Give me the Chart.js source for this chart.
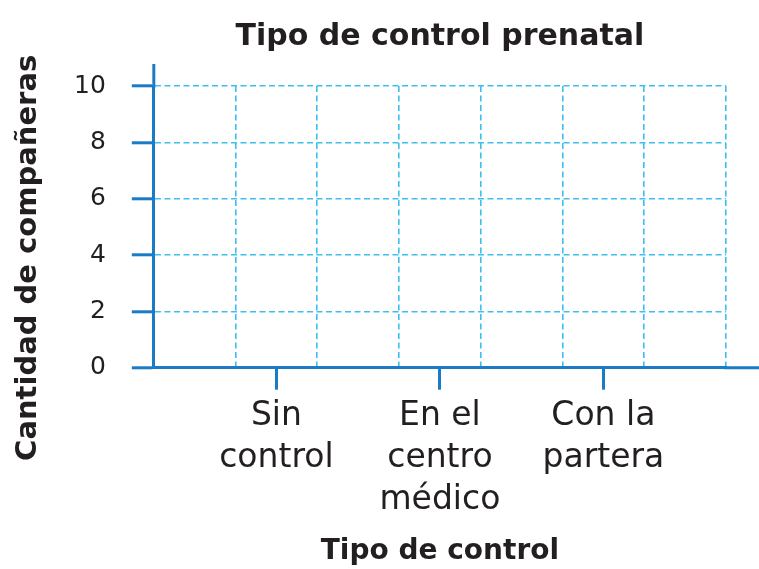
<!DOCTYPE html>
<html><head><meta charset="utf-8">
<script src="https://cdn.jsdelivr.net/npm/chart.js@4/dist/chart.umd.min.js"></script>
<style>html,body{margin:0;padding:0;background:#fff}#wrap{width:759px;height:569px;position:relative}</style>
</head><body><div id="wrap"><canvas id="c"></canvas></div>
<script>
const chartTitle = 'Tipo de control prenatal';
const xAxisTitle = 'Tipo de control';
const yAxisTitle = 'Cantidad de compañeras';
const categories = [['Sin', 'control'], ['En el', 'centro', 'médico'], ['Con la', 'partera']];
const categorySlots = [1.5, 3.5, 5.5];
const counts = [0, 0, 0];
const yTicks = [0, 2, 4, 6, 8, 10];
const xGridTicks = [0, 1, 2, 3, 4, 5, 6, 7];

const AXIS = '#1b7bc4';
const GRID = '#3dbff0';
const TEXT = '#231f20';
const FONT = '"DejaVu Sans", sans-serif';

const axisExtend = {
  id: 'axisExtend',
  afterDraw(chart) {
    const {ctx, chartArea: a} = chart;
    ctx.save();
    ctx.strokeStyle = AXIS;
    ctx.lineWidth = 3;
    ctx.lineCap = 'butt';
    ctx.beginPath();
    ctx.moveTo(a.left, a.top + 2);
    ctx.lineTo(a.left, a.top - 22);
    ctx.moveTo(a.right - 2, a.bottom);
    ctx.lineTo(chart.width, a.bottom);
    ctx.stroke();
    ctx.restore();
  }
};

const yTitlePlugin = {
  id: 'yTitle',
  afterDraw(chart) {
    const {ctx, chartArea: a} = chart;
    ctx.save();
    ctx.translate(28, (a.top + a.bottom) / 2 + 31);
    ctx.rotate(-Math.PI / 2);
    ctx.font = 'bold 29px ' + FONT;
    ctx.fillStyle = TEXT;
    ctx.textAlign = 'center';
    ctx.textBaseline = 'middle';
    ctx.fillText(yAxisTitle, 0, 0);
    ctx.restore();
  }
};

new Chart(document.getElementById('c'), {
  type: 'bar',
  data: {
    datasets: [{
      data: categorySlots.map((x, i) => ({x: x, y: counts[i]})),
      backgroundColor: AXIS,
      xAxisID: 'x',
      yAxisID: 'y'
    }]
  },
  plugins: [axisExtend, yTitlePlugin],
  options: {
    responsive: true,
    maintainAspectRatio: false,
    animation: false,
    layout: {padding: {left: 48, right: 33, top: 0, bottom: 0}},
    plugins: {
      legend: {display: false},
      tooltip: {enabled: false},
      title: {
        display: true,
        fullSize: false,
        text: chartTitle,
        color: TEXT,
        font: {family: FONT, size: 30, weight: 'bold'},
        padding: {top: 19, bottom: 31}
      }
    },
    scales: {
      x: {
        type: 'linear',
        position: 'bottom',
        offset: false,
        min: 0,
        max: 7,
        afterBuildTicks: s => { s.ticks = categorySlots.map(v => ({value: v})); },
        ticks: {
          autoSkip: false,
          maxRotation: 0,
          color: TEXT,
          font: {family: FONT, size: 33, lineHeight: 1.27},
          padding: 6,
          callback: v => categories[categorySlots.indexOf(v)]
        },
        grid: {offset: false, drawOnChartArea: false, drawTicks: true, tickLength: 22, tickColor: AXIS, tickWidth: 3, color: AXIS},
        border: {color: AXIS, width: 3},
        title: {
          display: true,
          text: xAxisTitle,
          color: TEXT,
          font: {family: FONT, size: 28, weight: 'bold'},
          padding: {top: 8, bottom: 0}
        }
      },
      xg: {
        type: 'linear',
        position: 'top',
        offset: false,
        min: 0,
        max: 7,
        afterBuildTicks: s => { s.ticks = xGridTicks.map(v => ({value: v})); },
        ticks: {display: false},
        grid: {offset: false, color: GRID, lineWidth: 1.6, drawTicks: false},
        border: {display: false, dash: [6, 3.5]}
      },
      y: {
        min: 0,
        max: 10,
        afterBuildTicks: s => { s.ticks = yTicks.map(v => ({value: v})); },
        ticks: {color: TEXT, font: {family: FONT, size: 25}, padding: 26},
        grid: {color: GRID, lineWidth: 1.6, tickLength: 22, tickColor: AXIS, tickWidth: 3, tickBorderDash: []},
        border: {color: AXIS, width: 3, dash: [6, 3.5]}
      }
    }
  }
});
</script>
</body></html>
